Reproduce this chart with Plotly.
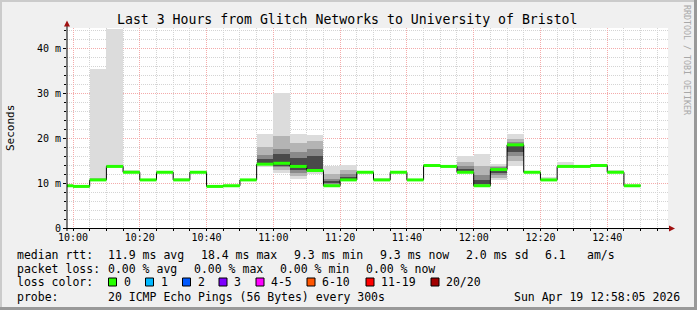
import plotly.graph_objects as go

# ---------------- data ----------------
DAY = "2026-04-19 "
interval_start = ["09:55", "10:00", "10:05", "10:10", "10:15", "10:20", "10:25", "10:30", "10:35",
                  "10:40", "10:45", "10:50", "10:55", "11:00", "11:05", "11:10", "11:15", "11:20",
                  "11:25", "11:30", "11:35", "11:40", "11:45", "11:50", "11:55", "12:00", "12:05",
                  "12:10", "12:15", "12:20", "12:25", "12:30", "12:35", "12:40", "12:45"]
interval_end_last = "12:50"

# median rtt in ms
median = [9.4, 9.25, 10.7, 13.7, 12.4, 10.7, 12.4, 10.7, 12.4, 9.25, 9.4, 10.7, 14.2, 14.4, 13.7,
          12.8, 9.4, 10.7, 12.4, 10.7, 12.4, 10.7, 13.9, 13.7, 12.4, 9.4, 13.0, 18.5, 12.4, 10.7,
          13.7, 13.7, 13.9, 12.4, 9.4]

# smoke: outer band (min..max ping) and inner quantile bands (ms)
smoke_min = [9.3, 9.2, 10.6, 13.5, 12.3, 10.6, 12.3, 10.6, 12.3, 9.2, 9.3, 10.6, 13.6, 12.3, 10.8,
             12.1, 9.3, 10.5, 12.3, 10.6, 12.3, 10.6, 13.8, 13.6, 12.2, 9.3, 10.6, 13.8, 12.3, 10.6,
             13.6, 13.6, 13.8, 12.3, 9.3]
smoke_max = [9.6, 9.4, 35.4, 44.3, 12.9, 10.9, 12.7, 11.1, 12.7, 9.4, 9.6, 10.9, 21.0, 30.0, 21.0,
             20.8, 13.8, 14.1, 12.6, 11.1, 12.7, 10.9, 14.1, 14.0, 16.0, 16.5, 14.3, 20.9, 12.6, 11.3,
             14.7, 13.9, 14.2, 12.8, 9.6]
band2_lo = [9.4, 9.25, 10.7, 13.6, 12.4, 10.7, 12.4, 10.7, 12.4, 9.25, 9.4, 10.7, 14.0, 13.0, 11.5,
            12.5, 9.6, 10.7, 12.4, 10.7, 12.4, 10.7, 13.9, 13.7, 12.4, 9.5, 11.2, 14.8, 12.4, 10.7,
            13.7, 13.7, 13.9, 12.4, 9.4]
band2_hi = [9.4, 9.25, 11.0, 14.0, 12.5, 10.7, 12.4, 10.8, 12.5, 9.25, 9.4, 10.7, 18.1, 20.5, 19.0,
            19.3, 12.0, 13.0, 12.4, 10.9, 12.5, 10.7, 13.9, 13.8, 14.6, 13.8, 13.9, 19.9, 12.4, 10.9,
            14.1, 13.7, 14.0, 12.5, 9.4]
band3_lo = [9.4, 9.25, 10.7, 13.7, 12.4, 10.7, 12.4, 10.7, 12.4, 9.25, 9.4, 10.7, 14.3, 13.5, 12.3,
            12.8, 9.9, 10.8, 12.4, 10.7, 12.4, 10.7, 13.9, 13.7, 12.5, 9.6, 11.8, 16.0, 12.4, 10.7,
            13.7, 13.7, 13.9, 12.4, 9.4]
band3_hi = [9.4, 9.25, 10.8, 13.7, 12.4, 10.7, 12.4, 10.7, 12.4, 9.25, 9.4, 10.7, 16.2, 17.5, 17.0,
            17.5, 11.0, 12.0, 12.4, 10.7, 12.4, 10.7, 13.9, 13.7, 13.7, 11.8, 13.5, 19.2, 12.4, 10.7,
            13.7, 13.7, 13.9, 12.4, 9.4]
band4_lo = [9.4, 9.25, 10.7, 13.7, 12.4, 10.7, 12.4, 10.7, 12.4, 9.25, 9.4, 10.7, 14.5, 13.8, 13.0,
            13.2, 10.0, 10.9, 12.4, 10.7, 12.4, 10.7, 13.9, 13.7, 12.6, 9.7, 12.3, 16.8, 12.4, 10.7,
            13.7, 13.7, 13.9, 12.4, 9.4]
band4_hi = [9.4, 9.25, 10.7, 13.7, 12.4, 10.7, 12.4, 10.7, 12.4, 9.25, 9.4, 10.7, 15.3, 16.5, 15.5,
            16.0, 10.5, 11.3, 12.4, 10.7, 12.4, 10.7, 13.9, 13.7, 13.2, 10.6, 13.2, 18.6, 12.4, 10.7,
            13.7, 13.7, 13.9, 12.4, 9.4]

y_tick_vals = [0, 10, 20, 30, 40]
y_tick_text = ["0", "10 m", "20 m", "30 m", "40 m"]

title_text = "Last 3 Hours from Glitch Networks to University of Bristol"
legend_lines = {
    "median": ["median rtt:", "11.9 ms avg", "18.4 ms max", "9.3 ms min", "9.3 ms now", "2.0 ms sd", "6.1", "am/s"],
    "loss": ["packet loss:", "0.00 % avg", "0.00 % max", "0.00 % min", "0.00 % now"],
}
loss_labels = ["0", "1", "2", "3", "4-5", "6-10", "11-19", "20/20"]
loss_colors = ["#26ff00", "#00b8ff", "#0059ff", "#7e00ff", "#ff00ff", "#ff5500", "#ff0000", "#a10000"]
probe_text = "20 ICMP Echo Pings (56 Bytes) every 300s"
stamp_text = "Sun Apr 19 12:58:05 2026"

# ---------------- layout geometry ----------------
W, H = 697, 310
L, R, T, B = 67, 29, 28, 82
PW, PH = W - L - R, H - T - B
FONT = "DejaVu Sans Mono"


def xp(px):
    return (px - L) / PW


def yp(py):
    return (H - B - py) / PH


x_start = [DAY + t for t in interval_start]
x_edges = x_start + [DAY + interval_end_last]

fig = go.Figure()

bands = [
    (smoke_min, smoke_max, "#dcdcdc"),
    (band2_lo, band2_hi, "#b4b4b4"),
    (band3_lo, band3_hi, "#8a8a8a"),
    (band4_lo, band4_hi, "#4a4a4a"),
]
for lo, hi, col in bands:
    fig.add_trace(go.Bar(
        x=x_start, y=[h - l for l, h in zip(lo, hi)], base=lo,
        width=300000, offset=0, marker=dict(color=col, line=dict(width=0)),
        showlegend=False, hoverinfo="skip"))

# black median step line
fig.add_trace(go.Scatter(
    x=x_edges, y=median + [median[-1]], mode="lines",
    line=dict(color="#000000", width=1, shape="hv"), showlegend=False, hoverinfo="skip"))

# green (loss 0) median segments
gx, gy = [], []
for i, m in enumerate(median):
    gx += [x_edges[i], x_edges[i + 1], None]
    gy += [m, m, None]
fig.add_trace(go.Scatter(
    x=gx, y=gy, mode="lines", line=dict(color=loss_colors[0], width=3),
    showlegend=False, hoverinfo="skip"))

shapes = []
# axis lines and arrows
shapes.append(dict(type="line", xref="paper", yref="paper", x0=xp(67), x1=xp(67), y0=yp(231), y1=yp(24),
                   line=dict(color="#000000", width=1)))
shapes.append(dict(type="line", xref="paper", yref="paper", x0=xp(63), x1=xp(670), y0=yp(228.5), y1=yp(228.5),
                   line=dict(color="#000000", width=1)))
shapes.append(dict(type="path", xref="paper", yref="paper",
                   path=f"M {xp(64)} {yp(26.5)} L {xp(70)} {yp(26.5)} L {xp(67)} {yp(20.5)} Z",
                   fillcolor="#a01010", line=dict(width=0)))
shapes.append(dict(type="path", xref="paper", yref="paper",
                   path=f"M {xp(669)} {yp(225.5)} L {xp(669)} {yp(231.5)} L {xp(675)} {yp(228.5)} Z",
                   fillcolor="#a01010", line=dict(width=0)))
# 3D border
shapes.append(dict(type="rect", xref="paper", yref="paper", x0=xp(0), x1=xp(W), y0=yp(0), y1=yp(2),
                   fillcolor="#cbcbcb", line=dict(width=0)))
shapes.append(dict(type="rect", xref="paper", yref="paper", x0=xp(0), x1=xp(2), y0=yp(0), y1=yp(H),
                   fillcolor="#cbcbcb", line=dict(width=0)))
shapes.append(dict(type="rect", xref="paper", yref="paper", x0=xp(W - 3), x1=xp(W), y0=yp(0), y1=yp(H),
                   fillcolor="#999999", line=dict(width=0)))
shapes.append(dict(type="rect", xref="paper", yref="paper", x0=xp(0), x1=xp(W), y0=yp(H - 3), y1=yp(H),
                   fillcolor="#999999", line=dict(width=0)))

annotations = []


def ann(text, px, py, size=11.5, color="#000000", anchor="left", angle=0):
    annotations.append(dict(text=text, x=xp(px), y=yp(py), xref="paper", yref="paper",
                            xanchor=anchor, yanchor="middle", showarrow=False, textangle=angle,
                            font=dict(family=FONT, size=size, color=color), borderpad=0))


ann(title_text, 347, 19, size=13.2, anchor="center")
ann("Seconds", 10, 128, size=11, anchor="center", angle=-90)
ann("RRDTOOL / TOBI OETIKER", 687, 60, size=8.3, color="#a8a8a8", anchor="center", angle=90)

row_y = [254.5, 268.5, 282, 296.5]
med_x = [16, 107, 200, 293, 379, 465, 544, 586]
for t, x in zip(legend_lines["median"], med_x):
    ann(t, x, row_y[0])
loss_x = [16, 107, 193, 279, 365]
for t, x in zip(legend_lines["loss"], loss_x):
    ann(t, x, row_y[1])
ann("loss color:", 16, row_y[2])
box_x = [108.5, 145.5, 182.5, 219, 256, 307, 366, 431]
for lab, col, bx in zip(loss_labels, loss_colors, box_x):
    shapes.append(dict(type="rect", xref="paper", yref="paper", x0=xp(bx), x1=xp(bx + 8),
                       y0=yp(row_y[2] + 4), y1=yp(row_y[2] - 4), fillcolor=col,
                       line=dict(color="#000000", width=1)))
    ann(lab, bx + 14, row_y[2])
ann("probe:", 16, row_y[3])
ann(probe_text, 107, row_y[3])
ann(stamp_text, 513, row_y[3])

grid_minor = "#d4d4d4"
grid_major = "#f4aaaa"

fig.update_layout(
    width=W, height=H, autosize=False,
    margin=dict(l=L, r=R, t=T, b=B, pad=0),
    paper_bgcolor="#f0f0f0", plot_bgcolor="#ffffff",
    barmode="overlay", bargap=0,
    showlegend=False,
    shapes=shapes, annotations=annotations,
    font=dict(family=FONT, size=10, color="#000000"),
    xaxis=dict(
        type="date", range=[DAY + "09:58:12", DAY + "12:58:12"],
        tick0=DAY + "10:00", dtick=1200000, tickformat="%H:%M",
        showgrid=True, gridcolor=grid_major, griddash="1px,1px", gridwidth=1,
        ticks="outside", ticklen=2, tickcolor="#000000", ticklabelstandoff=-2,
        minor=dict(dtick=300000, tick0=DAY + "10:00", showgrid=True, gridcolor=grid_minor,
                   griddash="1px,1px", ticks="outside", ticklen=2, tickcolor="#000000"),
        showline=False, zeroline=False, fixedrange=True,
        tickfont=dict(family=FONT, size=10),
    ),
    yaxis=dict(
        range=[0, 44.5], tickmode="array", tickvals=y_tick_vals, ticktext=y_tick_text,
        showgrid=True, gridcolor=grid_major, griddash="1px,1px", gridwidth=1,
        ticks="outside", ticklen=3, tickcolor="#000000",
        minor=dict(dtick=2, tick0=0, showgrid=True, gridcolor=grid_minor, griddash="1px,1px",
                   ticks="outside", ticklen=2, tickcolor="#000000"),
        showline=False, zeroline=False, fixedrange=True,
        tickfont=dict(family=FONT, size=10),
    ),
)

fig.write_html("out.html")
